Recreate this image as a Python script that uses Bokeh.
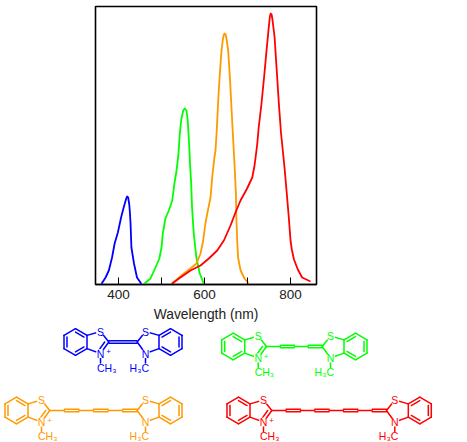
from bokeh.plotting import figure
from bokeh.layouts import column
from bokeh.embed import file_html
from bokeh.resources import INLINE
from bokeh.core.properties import value
from bokeh.models import FixedTicker, Range1d

FONT = "Liberation Sans"
BLUE, GREEN, ORANGE, RED = "#0000ff", "#00ff00", "#ff9900", "#ff0000"

blue_nm = [360.5,370,377.5,385,391,398.5,406,412,418,420,422.5,425,426.5,428,430,436,443,453]
blue_abs = [0.7,7,14,27,41,52,67,77,86,88,87,80,72,61,37,21,7,0.7]
green_nm = [460.5,474.4,486,495,500,503,509,517,525,530,535,539.5,542.6,545.7,550.4,554,558,561,565,566.7,569,571,575,581,589,598]
green_abs = [1,6,17,26,37,51,66,74,84,101,114,131,151,164,174,176,174,164,134,117,101,77,51,27,11,1]
orange_nm = [524,538,552,567.4,581.4,590.7,597,602,607.8,614,617.8,623,625.6,628,632.6,635.7,639.5,643,645,647,649,651,655,659,663,668,670.5,673,674,676,678,684,693,703]
orange_abs = [0.7,6,11,16,21,31,44,61,74,87,107,127,134,151,190,211,234,246,250,251,250,246,234,207,174,134,114,91,67,44,27,14,6,0.7]
red_nm = [524,544,567.4,590.7,610,629.5,645,660.5,672,683.7,699,711,716,719,722.5,726,732,738,744,749.6,752,754,756,758,763,767.5,773,778,782,786,790.7,796,800,803,808,817,827,846.5]
red_abs = [0.7,7,14,19,26,34,44,59,72,84,96,107,118,128,140,157,179,205,233,258,268,271,270,265,247,217,180,151,134,117,94,67,44,35,25,15,7,3]

x_ticks = [400, 500, 600, 700, 800]
x_tick_labels = {400: "400", 500: "", 600: "600", 700: "", 800: "800"}
x_title = "Wavelength (nm)"

# molecule: colour, left / right benzene centre, centre height, chain segments
mol_colors = [BLUE, GREEN, ORANGE, RED]
mol_left = [75, 232.7, 16, 238]
mol_right = [170, 355, 170, 419.3]
mol_y = [341.5, 346, 410, 410]
mol_segments = [1, 4, 6, 8]

# benzothiazole skeleton
ring_x = [0, 11.5, 11.5, 0, -11.5, -11.5]
ring_y = [-13.3, -6.65, 6.65, 13.3, 6.65, -6.65]
atom_s = (25, -10.5)
atom_c = (33.3, 0)
atom_n = (25, 11.5)
methyl_end = (25, 21)

top = figure(width=467, height=325, x_range=Range1d(346.5, 860.4), y_range=Range1d(0, 278),
             output_backend="svg", toolbar_location=None, frame_align=False,
             min_border_left=95, min_border_right=151, min_border_top=6, min_border_bottom=41)
for xs, ys, c in [(blue_nm, blue_abs, BLUE), (green_nm, green_abs, GREEN),
                  (orange_nm, orange_abs, ORANGE), (red_nm, red_abs, RED)]:
    top.line(xs, ys, line_color=c, line_width=1.8, line_join="round")
top.yaxis.visible = False
top.grid.visible = False
top.outline_line_color = "black"
top.outline_line_width = 1.6
ax = top.xaxis[0]
ax.ticker = FixedTicker(ticks=x_ticks)
ax.major_label_overrides = x_tick_labels
ax.major_tick_in = 7
ax.major_tick_out = 0
ax.minor_tick_line_color = None
ax.major_tick_line_color = "black"
ax.major_tick_line_width = 1
ax.axis_line_color = "black"
ax.axis_line_width = 1.6
ax.major_label_text_font = FONT
ax.major_label_text_font_size = "13.5px"
ax.major_label_text_color = "#222222"
ax.major_label_standoff = 5
ax.axis_label = x_title
ax.axis_label_text_font = FONT
ax.axis_label_text_font_size = "13.8px"
ax.axis_label_text_font_style = "normal"
ax.axis_label_text_color = "#222222"
ax.axis_label_standoff = 5

bottom = figure(width=467, height=117, x_range=Range1d(0, 467), y_range=Range1d(442, 325),
                output_backend="svg", toolbar_location=None, frame_align=False,
                min_border=0, min_border_left=0, min_border_right=0, min_border_top=0, min_border_bottom=0)
bottom.axis.visible = False
bottom.grid.visible = False
bottom.outline_line_color = None


def half(ox, oy, sign, cation):
    """Bonds of one benzothiazole end; sign=+1 opens to the right, -1 to the left."""
    P = lambda p: (ox + sign * p[0], oy + p[1])
    segs = []
    verts = list(zip(ring_x, ring_y))
    for i in range(6):
        a, b = verts[i], verts[(i + 1) % 6]
        segs.append((P(a), P(b)))
        if i % 2 == 0:
            k = 0.74
            segs.append((P((a[0] * k, a[1] * k)), P((b[0] * k, b[1] * k))))
    segs.append((P(verts[1]), P(atom_s)))
    segs.append((P(atom_s), P(atom_c)))
    segs.append((P(atom_c), P(atom_n)))
    segs.append((P(atom_n), P(verts[2])))
    segs.append((P(atom_n), P(methyl_end)))
    if cation:
        cx, cy = 20.5, 0.0
        k = 0.68
        a = (cx + (atom_c[0] - cx) * k, cy + (atom_c[1] - cy) * k)
        b = (cx + (atom_n[0] - cx) * k, cy + (atom_n[1] - cy) * k)
        segs.append((P(a), P(b)))
    return segs


for col, lx, rx, y, n in zip(mol_colors, mol_left, mol_right, mol_y, mol_segments):
    segs = half(lx, y, 1, True) + half(rx, y, -1, False)
    x0 = lx + atom_c[0]
    x1 = rx - atom_c[0]
    step = (x1 - x0) / n
    for i in range(n):
        a, b = x0 + i * step, x0 + (i + 1) * step
        # the segment that ends at the right-hand ring is always double
        if (n - i) % 2 == 1:
            segs.append(((a, y - 1.3), (b, y - 1.3)))
            segs.append(((a, y + 1.3), (b, y + 1.3)))
        else:
            segs.append(((a, y), (b, y)))
    bottom.multi_line([[s[0][0], s[1][0]] for s in segs], [[s[0][1], s[1][1]] for s in segs],
                      line_color=col, line_width=1.5, line_cap="round")
    atoms_x = [lx + atom_s[0], lx + atom_n[0], rx - atom_s[0], rx - atom_n[0]]
    atoms_y = [y + atom_s[1], y + atom_n[1], y + atom_s[1], y + atom_n[1]]
    bottom.scatter(atoms_x, atoms_y, size=9, marker="circle", fill_color="white", line_color=None)
    bottom.text(atoms_x, atoms_y, text=["S", "N", "S", "N"], text_color=col,
                text_font=value(FONT), text_font_size="10.5px",
                text_align="center", text_baseline="middle")
    bottom.text([lx + 33], [y + 9.5], text=["+"], text_color=col, text_font=value(FONT),
                text_font_size="8px", text_align="center", text_baseline="middle")
    bottom.text([lx + 21.5], [y + 25.8], text=["CH₃"], text_color=col, text_font=value(FONT),
                text_font_size="10.5px", text_align="left", text_baseline="middle")
    bottom.text([rx - 21.5], [y + 25.8], text=["H₃C"], text_color=col, text_font=value(FONT),
                text_font_size="10.5px", text_align="right", text_baseline="middle")

layout = column(top, bottom, spacing=0, margin=(0, 0, 0, 0))
open("out.html", "w").write(file_html(layout, INLINE))
